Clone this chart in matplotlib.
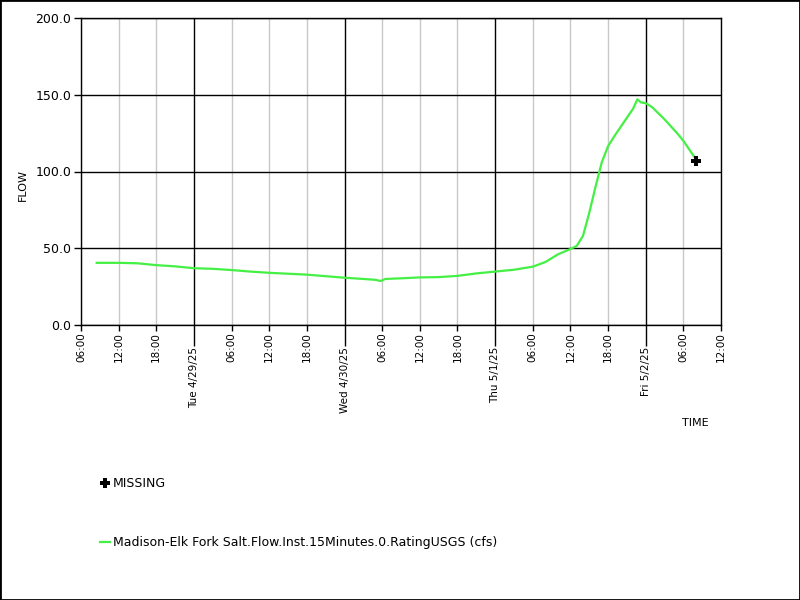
import matplotlib
matplotlib.use("Agg")
import matplotlib.pyplot as plt
import matplotlib.dates as mdates
import pandas as pd
from matplotlib.patches import Rectangle

# flow series (cfs)
times = [
    "2025-04-28 08:30", "2025-04-28 12:00", "2025-04-28 15:00", "2025-04-28 18:00",
    "2025-04-28 21:00", "2025-04-29 00:00", "2025-04-29 03:00", "2025-04-29 06:00",
    "2025-04-29 09:00", "2025-04-29 12:00", "2025-04-29 15:00", "2025-04-29 18:00",
    "2025-04-29 21:00", "2025-04-30 00:00", "2025-04-30 03:00", "2025-04-30 05:00",
    "2025-04-30 05:45", "2025-04-30 06:30", "2025-04-30 09:00", "2025-04-30 12:00",
    "2025-04-30 15:00", "2025-04-30 18:00", "2025-04-30 21:00", "2025-05-01 00:00",
    "2025-05-01 03:00", "2025-05-01 06:00", "2025-05-01 08:00", "2025-05-01 09:00",
    "2025-05-01 10:00", "2025-05-01 12:00", "2025-05-01 13:00", "2025-05-01 14:00",
    "2025-05-01 15:00", "2025-05-01 16:00", "2025-05-01 17:00", "2025-05-01 18:00",
    "2025-05-01 19:00", "2025-05-01 20:00", "2025-05-01 21:00", "2025-05-01 22:00",
    "2025-05-01 22:40", "2025-05-01 23:15", "2025-05-02 00:00", "2025-05-02 01:00",
    "2025-05-02 02:00", "2025-05-02 03:00", "2025-05-02 04:00", "2025-05-02 05:00",
    "2025-05-02 06:00", "2025-05-02 07:00", "2025-05-02 08:00",
]
flow = [
    40.5, 40.5, 40.2, 39.0,
    38.2, 37.0, 36.6, 35.8,
    34.8, 34.0, 33.4, 32.8,
    31.8, 30.8, 30.0, 29.4,
    28.6, 30.0, 30.4, 31.0,
    31.2, 32.0, 33.6, 34.8,
    36.0, 38.0, 41.0, 43.5,
    46.0, 49.5, 51.5, 58.0,
    73.0, 90.0, 106.0, 116.5,
    123.0, 129.0, 135.0, 141.0,
    147.0, 145.0, 144.5, 142.0,
    138.0, 134.0, 129.5, 125.0,
    120.0, 114.0, 108.0,
]
missing_times = ["2025-05-02 08:00"]
missing_flow = [107.0]

series_name = "Madison-Elk Fork Salt.Flow.Inst.15Minutes.0.RatingUSGS (cfs)"

t = pd.to_datetime(times)
tm = pd.to_datetime(missing_times)

fig = plt.figure(figsize=(8, 6), dpi=100)
ax = fig.add_axes([81 / 800, 1 - 325 / 600, 640 / 800, 307 / 600])

green = "#44f044"
line, = ax.plot(t, flow, color=green, lw=1.6, zorder=3)
miss, = ax.plot(tm, missing_flow, linestyle="none", marker="P", markersize=7,
                color="black", markeredgewidth=0, zorder=4)

ax.set_xlim(pd.Timestamp("2025-04-28 06:00"), pd.Timestamp("2025-05-02 12:00"))
ax.set_ylim(0, 200)
ax.set_yticks([0, 50, 100, 150, 200])
ax.yaxis.set_major_formatter(plt.FuncFormatter(lambda v, p: f"{v:.1f}"))

ax.xaxis.set_major_locator(mdates.DayLocator())
ax.xaxis.set_minor_locator(mdates.HourLocator(byhour=[6, 12, 18]))


def day_fmt(x, pos=None):
    d = mdates.num2date(x)
    return f"{d:%a} {d.month}/{d.day}/{d:%y}"


ax.xaxis.set_major_formatter(plt.FuncFormatter(day_fmt))
ax.xaxis.set_minor_formatter(mdates.DateFormatter("%H:%M"))

ax.grid(which="major", axis="both", color="black", lw=1.0, zorder=1)
ax.grid(which="minor", axis="x", color="#c8c8c8", lw=1.0, zorder=0)

ax.tick_params(axis="x", which="major", length=15, width=1, labelsize=7.5,
               labelrotation=90, pad=1)
ax.tick_params(axis="x", which="minor", length=4, width=1, labelsize=7.5,
               labelrotation=90, pad=1)
ax.tick_params(axis="y", length=5, width=1, labelsize=9, pad=2)
for s in ax.spines.values():
    s.set_linewidth(1.0)

fig.text(23 / 800, 1 - 185 / 600, "FLOW", rotation=90, ha="center", va="center", fontsize=8)
fig.text(695 / 800, 1 - 423 / 600, "TIME", ha="center", va="center", fontsize=8)

ax.legend([miss, line], ["MISSING", series_name],
          loc="upper left", bbox_to_anchor=(100 / 800, 1 - 477 / 600),
          bbox_transform=fig.transFigure, frameon=False, fontsize=9,
          handlelength=0.8, handletextpad=0.25, labelspacing=3.7,
          borderpad=0, borderaxespad=0)

fig.add_artist(Rectangle((0, 0), 1, 1, transform=fig.transFigure,
                         fill=False, edgecolor="black", lw=2))

fig.savefig("out.png", dpi=100)
